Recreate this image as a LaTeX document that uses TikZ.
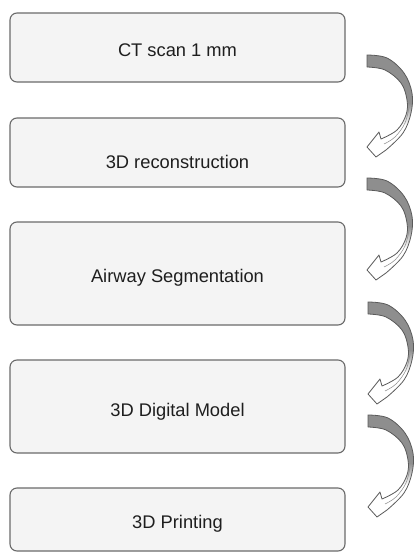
\documentclass[tikz,border=0pt]{standalone}
\usepackage{fontspec}
\setmainfont{Liberation Sans}
\definecolor{boxfill}{HTML}{F4F4F4}
\definecolor{boxline}{HTML}{6A6A6A}
\definecolor{txt}{HTML}{1E1E1E}
\definecolor{arrline}{HTML}{5A5A5A}
\definecolor{arrgray}{HTML}{8E8E8E}
\newcommand{\arrowpath}{plot[smooth, tension=0.6] coordinates {(0,0) (20,3) (37,18) (45,38) (44,58) (36,78) (19,95)}
  -- (9,102) -- (0,92) -- (12,77) -- (14,84)
  -- plot[smooth, tension=0.6] coordinates {(14,84) (30,75) (39,60) (40,45) (34,28) (18,15) (0,12)} -- cycle}
\tikzset{
  box/.style={draw=boxline, fill=boxfill, line width=1.1pt, rounded corners=7pt,
    minimum width=335pt, inner sep=0pt},
  lbl/.style={font=\fontsize{18.3}{22}\selectfont, text=txt, anchor=base, inner sep=0pt},
  curvarrow/.pic={
    \fill[white] \arrowpath;
    \begin{scope}
      \clip \arrowpath;
      \fill[arrgray] (-5,-5) rectangle (50,48);
      \shade[top color=arrgray, bottom color=white] (-5,48) rectangle (50,70);
    \end{scope}
    \draw[arrline!70, line width=0.5pt] plot[smooth, tension=0.6] coordinates {(42,52) (38,68) (28,82) (17,89)};
    \draw[arrline, line width=0.8pt, line join=round] \arrowpath;
  }
}
\begin{document}
\begin{tikzpicture}[x=1pt, y=-1pt]
  \useasboundingbox (0,0) rectangle (415,552);
  % boxes
  \node[box, minimum height=69pt] (b1) at (177.5,47.5) {};
  \node[box, minimum height=69pt] (b2) at (177.5,152.5) {};
  \node[box, minimum height=103pt] (b3) at (177.5,273.5) {};
  \node[box, minimum height=93pt] (b4) at (177.5,406.5) {};
  \node[box, minimum height=63pt] (b5) at (177.5,519.5) {};
  % labels
  \node[lbl] (t1) at (177.5,56) {CT scan 1 mm};
  \node[lbl] (t2) at (177.5,168) {3D reconstruction};
  \node[lbl] (t3) at (177.5,282) {Airway Segmentation};
  \node[lbl] (t4) at (177.5,416) {3D Digital Model};
  \node[lbl] (t5) at (177.5,528) {3D Printing};
  % curved arrows
  \coordinate (a1) at (367,55);
  \coordinate (a2) at (367,178);
  \coordinate (a3) at (368,302);
  \coordinate (a4) at (368,415);
  \pic at (a1) {curvarrow};
  \pic at (a2) {curvarrow};
  \pic at (a3) {curvarrow};
  \pic at (a4) {curvarrow};
\end{tikzpicture}
\end{document}
